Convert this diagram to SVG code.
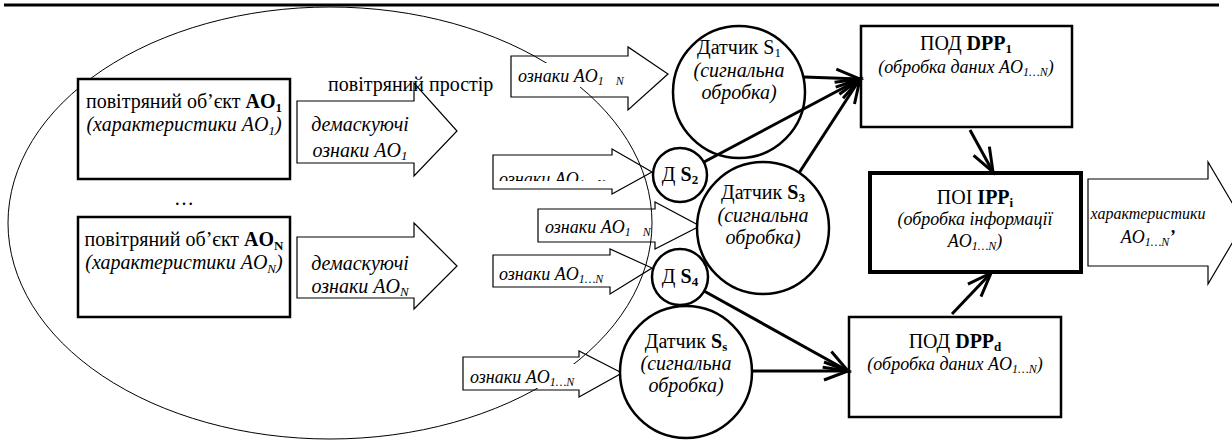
<svg xmlns="http://www.w3.org/2000/svg" width="1232" height="443" viewBox="0 0 1232 443" font-family="Liberation Serif, Times New Roman, serif">
<defs>
<style>
text{font-family:'Liberation Serif','Times New Roman',serif;fill:#000}
.t{font-size:20px;text-anchor:middle}
.m{font-size:18px}
.l{font-size:18px;text-anchor:start}
.i{font-style:italic}
.b{font-weight:bold}
.s{font-size:13px}
.s2{font-size:12px}
.box{fill:#fff;stroke:#000;stroke-width:2.5}
.circ{fill:#fff;stroke:#000;stroke-width:2.5}
.harrow{fill:none;stroke:#000;stroke-width:1.2;stroke-linejoin:miter}
.con{stroke:#000;stroke-width:3;fill:none;marker-end:url(#ah)}
</style>
<marker id="ah" markerUnits="userSpaceOnUse" orient="auto" markerWidth="34" markerHeight="30" refX="0" refY="0" viewBox="-30 -15 34 30" overflow="visible">
<path d="M-24,-9 L0,0 L-24,9" fill="none" stroke="#000" stroke-width="3"/>
</marker>
<clipPath id="clipS2"><rect x="490" y="150" width="130" height="31"/></clipPath>
</defs>
<rect width="1232" height="443" fill="#fff"/>
<line x1="4" y1="5" x2="1219" y2="5" stroke="#000" stroke-width="3"/>

<g id="airspace">
<ellipse cx="330" cy="223" rx="322" ry="216" fill="none" stroke="#000" stroke-width="1"/>
<text x="328" y="91" font-family="Liberation Serif" font-size="20">повітряний простір</text>
</g>

<g id="ao1">
<rect class="box" x="78" y="79" width="212" height="100"/>
<text class="t" x="184" y="108">повітряний об’єкт <tspan class="b">AO</tspan><tspan class="b s" dy="4">1</tspan></text>
<text class="t i" x="184" y="131">(характеристики AO<tspan class="s" dy="4">1</tspan><tspan dy="-4">)</tspan></text>
</g>
<g id="dots"><text class="t" x="184" y="205">…</text></g>
<g id="aon">
<rect class="box" x="78" y="217" width="212" height="100"/>
<text class="t" x="184" y="246">повітряний об’єкт <tspan class="b">AO</tspan><tspan class="b s" dy="4">N</tspan></text>
<text class="t i" x="184" y="269">(характеристики AO<tspan class="s" dy="4">N</tspan><tspan dy="-4">)</tspan></text>
</g>

<g id="demask1">
<path class="harrow" d="M297,101 L414,101 L414,83 L457,131 L414,176 L414,163 L297,163 Z"/>
<text class="t i" x="360" y="131">демаскуючі</text>
<text class="t i" x="360" y="157">ознаки AO<tspan class="s" dy="3">1</tspan></text>
</g>
<g id="demaskN">
<path class="harrow" d="M297,237 L414,237 L414,223 L457,266 L414,309 L414,298 L297,298 Z"/>
<text class="t i" x="360" y="270">демаскуючі</text>
<text class="t i" x="360" y="293">ознаки AO<tspan class="s" dy="3">N</tspan></text>
</g>

<g id="sig1">
<path class="harrow" d="M511,56 L628,56 L628,47 L668,74 L628,110 L628,97 L511,97 Z"/>
<rect x="515" y="63" width="102" height="24" fill="#fff"/>
<text class="l i" x="518" y="82">ознаки AO<tspan class="s2" dy="3">1</tspan><tspan class="s2" dx="12">N</tspan></text>
</g>
<g id="sig2">
<path class="harrow" d="M493,155 L612,155 L612,149 L652,172 L612,194 L612,189 L493,189 Z"/>
<text class="l i" x="499" y="185" clip-path="url(#clipS2)">ознаки AO<tspan class="s2" dy="3">1</tspan><tspan class="s2" dx="12">N</tspan></text>
</g>
<g id="sig3">
<path class="harrow" d="M538,209 L655,209 L655,202 L700,226 L655,249 L655,242 L538,242 Z"/>
<text class="l i" x="545" y="233">ознаки AO<tspan class="s2" dy="3">1</tspan><tspan class="s2" dx="12">N</tspan></text>
</g>
<g id="sig4">
<path class="harrow" d="M493,255 L610,255 L610,249 L652,268 L610,294 L610,287 L493,287 Z"/>
<text class="l i" x="499" y="280">ознаки AO<tspan class="s2" dy="3">1…N</tspan></text>
</g>
<g id="sigS">
<path class="harrow" d="M463,357 L579,357 L579,351 L622,373 L579,397 L579,390 L463,390 Z"/>
<rect x="467" y="364" width="110" height="24" fill="#fff"/>
<text class="l i" x="470" y="383">ознаки AO<tspan class="s2" dy="3">1…N</tspan></text>
</g>

<g id="S1">
<circle class="circ" cx="739" cy="92" r="66"/>
<text class="t" x="739" y="54">Датчик S<tspan class="s" dy="3">1</tspan></text>
<text class="t i" x="739" y="77">(сигнальна</text>
<text class="t i" x="739" y="99">обробка)</text>
</g>
<g id="S2">
<circle class="circ" cx="680" cy="175" r="27"/>
<text class="t" x="680" y="181">Д <tspan class="b">S</tspan><tspan class="b s" dy="3">2</tspan></text>
</g>
<g id="S3">
<circle class="circ" cx="763" cy="228" r="66"/>
<text class="t" x="763" y="199">Датчик <tspan class="b">S</tspan><tspan class="b s" dy="3">3</tspan></text>
<text class="t i" x="763" y="222">(сигнальна</text>
<text class="t i" x="763" y="244">обробка)</text>
</g>
<g id="S4">
<circle class="circ" cx="680" cy="277" r="28"/>
<text class="t" x="680" y="283">Д <tspan class="b">S</tspan><tspan class="b s" dy="3">4</tspan></text>
</g>
<g id="Ss">
<circle class="circ" cx="686" cy="372" r="66"/>
<text class="t" x="686" y="348">Датчик <tspan class="b">S</tspan><tspan class="b s" dy="3">s</tspan></text>
<text class="t i" x="686" y="370">(сигнальна</text>
<text class="t i" x="686" y="392">обробка)</text>
</g>

<g id="DPP1">
<rect class="box" x="861" y="26" width="211" height="101"/>
<text class="t" x="966" y="50">ПОД <tspan class="b">DPP</tspan><tspan class="b s" dy="3">1</tspan></text>
<text class="t m i" x="966" y="73">(обробка даних AO<tspan class="s2" dy="3">1…N</tspan><tspan dy="-3">)</tspan></text>
</g>
<g id="IPP">
<rect class="box" x="870" y="173" width="211" height="99" style="stroke-width:4"/>
<text class="t" x="975" y="204">ПОІ <tspan class="b">IPP</tspan><tspan class="b s" dy="3">i</tspan></text>
<text class="t m i" x="975" y="225">(обробка інформації</text>
<text class="t m i" x="975" y="247">AO<tspan class="s2" dy="3">1…N</tspan><tspan dy="-3">)</tspan></text>
</g>
<g id="DPPd">
<rect class="box" x="849" y="317" width="212" height="100"/>
<text class="t" x="955" y="348">ПОД <tspan class="b">DPP</tspan><tspan class="b s" dy="3">d</tspan></text>
<text class="t m i" x="955" y="370">(обробка даних AO<tspan class="s2" dy="3">1…N</tspan><tspan dy="-3">)</tspan></text>
</g>
<g id="output">
<path class="harrow" d="M1088,179 L1208,179 L1208,162 L1244,223 L1208,284 L1208,266 L1088,266 Z"/>
<text class="t i" x="1148" y="219" style="font-size:16px">характеристики</text>
<text class="t i" x="1148" y="243" style="font-size:18px">AO<tspan class="s2" dy="3">1…N</tspan><tspan class="b" dy="-3">’</tspan></text>
</g>

<g id="connectors">
<line class="con" x1="804" y1="77" x2="860" y2="79"/>
<line class="con" x1="704" y1="162" x2="860" y2="79"/>
<line class="con" x1="799" y1="173" x2="860" y2="79"/>
<line class="con" x1="970" y1="130" x2="993" y2="172"/>
<line class="con" x1="952" y1="314" x2="991" y2="273"/>
<line class="con" x1="704" y1="291" x2="848" y2="371"/>
<line class="con" x1="752" y1="371" x2="848" y2="371"/>
</g>
</svg>
